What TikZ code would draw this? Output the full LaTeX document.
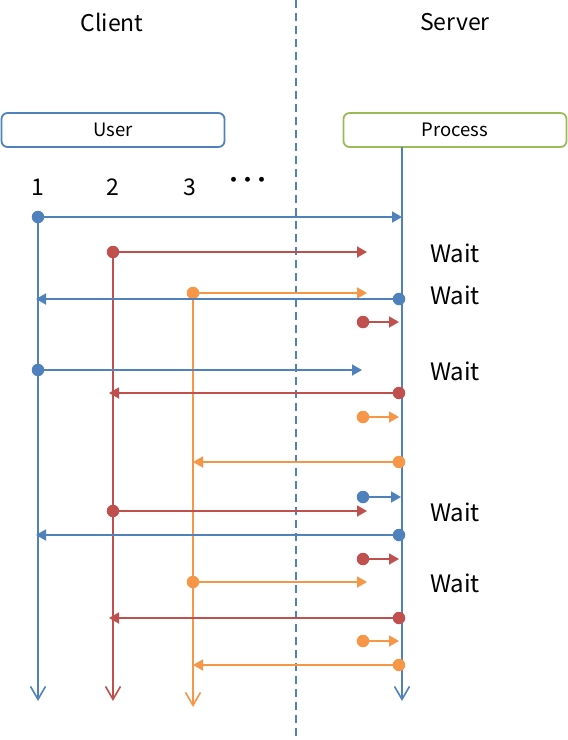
\documentclass[tikz,border=0pt]{standalone}
\usepackage{fontspec}
\setmainfont{Noto Sans CJK JP}
\usetikzlibrary{arrows.meta}
\definecolor{cblue}{HTML}{4F81BD}
\definecolor{cred}{HTML}{C0504D}
\definecolor{corange}{HTML}{F79646}
\definecolor{cgreen}{HTML}{9BBB59}
\tikzset{
  msg/.style={line width=1.8pt, -{Triangle[length=10pt,width=11pt]}},
  life/.style={line width=1.8pt, -{Straight Barb[length=13pt,width=15pt,line width=1.6pt]}},
  dotnode/.style={circle, fill, inner sep=0pt, minimum size=12.5pt},
  hdr/.style={font=\fontsize{23}{27}\selectfont, inner sep=0pt},
  num/.style={font=\fontsize{23}{27}\selectfont, inner sep=0pt},
  waitlbl/.style={font=\fontsize{24}{28}\selectfont, inner sep=0pt},
  boxnode/.style={draw, line width=1.8pt, rounded corners=6pt, minimum width=223pt, minimum height=34pt, inner sep=0pt, font=\fontsize{18.5}{22}\selectfont},
}
\begin{document}
\begin{tikzpicture}[x=1pt,y=-1pt]
\useasboundingbox (0,0) rectangle (568,740);
% divider
\coordinate (divtop) at (296,0);
\coordinate (divbot) at (296,736);
\draw[cblue, line width=1.8pt, dash pattern=on 8pt off 5pt] (divtop) -- (divbot);
% headers
\node[hdr] (client) at (112,22) {Client};
\node[hdr] (server) at (455,22) {Server};
% boxes
\node[boxnode, cblue, text=black] (user) at (113,130) {User};
\node[boxnode, cgreen, text=black] (proc) at (455,130) {Process};
% numbers
\node[num] (n1) at (38,187) {1};
\node[num] (n2) at (113,187) {2};
\node[num] (n3) at (190,187) {3};
\node[num] (n4) at (248,183) {\addfontfeature{LetterSpace=-40}・・・};
% lifelines
\coordinate (l1top) at (38,217);
\coordinate (l1bot) at (38,701);
\coordinate (l2top) at (113,252);
\coordinate (l2bot) at (113,701);
\coordinate (l3top) at (193,293);
\coordinate (l3bot) at (193,707);
\coordinate (srvbot) at (402,701);
\coordinate (srvtop) at (402,147);
\draw[life, cblue] (l1top) -- (l1bot);
\draw[life, cred] (l2top) -- (l2bot);
\draw[life, corange] (l3top) -- (l3bot);
\draw[life, cblue] (srvtop) -- (srvbot);
% waits
\node[waitlbl] (w1) at (455,253) {Wait};
\node[waitlbl] (w2) at (455,295) {Wait};
\node[waitlbl] (w3) at (455,371) {Wait};
\node[waitlbl] (w4) at (455,512) {Wait};
\node[waitlbl] (w5) at (455,583) {Wait};
% messages: start dot, end coordinate
% 1
\node[dotnode, cblue] (a1) at (38,217) {};
\coordinate (e1) at (402,217);
\draw[msg, cblue] (a1.center) -- (e1);
% 2
\node[dotnode, cred] (a2) at (113,252) {};
\coordinate (e2) at (367,252);
\draw[msg, cred] (a2.center) -- (e2);
% 3
\node[dotnode, corange] (a3) at (193,293) {};
\coordinate (e3) at (367,293);
\draw[msg, corange] (a3.center) -- (e3);
% 4
\node[dotnode, cblue] (a4) at (399,299) {};
\coordinate (e4) at (36,299);
\draw[msg, cblue] (a4.center) -- (e4);
% 5
\node[dotnode, cred] (a5) at (363,322) {};
\coordinate (e5) at (399,322);
\draw[msg, cred] (a5.center) -- (e5);
% 6
\node[dotnode, cblue] (a6) at (38,370) {};
\coordinate (e6) at (362,370);
\draw[msg, cblue] (a6.center) -- (e6);
% 7
\node[dotnode, cred] (a7) at (399,393) {};
\coordinate (e7) at (109,393);
\draw[msg, cred] (a7.center) -- (e7);
% 8
\node[dotnode, corange] (a8) at (363,417) {};
\coordinate (e8) at (399,417);
\draw[msg, corange] (a8.center) -- (e8);
% 9
\node[dotnode, corange] (a9) at (399,462) {};
\coordinate (e9) at (193,462);
\draw[msg, corange] (a9.center) -- (e9);
% 10
\node[dotnode, cblue] (a10) at (363,497) {};
\coordinate (e10) at (401,497);
\draw[msg, cblue] (a10.center) -- (e10);
% 11
\node[dotnode, cred] (a11) at (113,511) {};
\coordinate (e11) at (367,511);
\draw[msg, cred] (a11.center) -- (e11);
% 12
\node[dotnode, cblue] (a12) at (399,535) {};
\coordinate (e12) at (36,535);
\draw[msg, cblue] (a12.center) -- (e12);
% 13
\node[dotnode, cred] (a13) at (363,559) {};
\coordinate (e13) at (399,559);
\draw[msg, cred] (a13.center) -- (e13);
% 14
\node[dotnode, corange] (a14) at (193,582) {};
\coordinate (e14) at (367,582);
\draw[msg, corange] (a14.center) -- (e14);
% 15
\node[dotnode, cred] (a15) at (399,618) {};
\coordinate (e15) at (109,618);
\draw[msg, cred] (a15.center) -- (e15);
% 16
\node[dotnode, corange] (a16) at (363,641) {};
\coordinate (e16) at (399,641);
\draw[msg, corange] (a16.center) -- (e16);
% 17
\node[dotnode, corange] (a17) at (399,665) {};
\coordinate (e17) at (193,665);
\draw[msg, corange] (a17.center) -- (e17);
\end{tikzpicture}
\end{document}
